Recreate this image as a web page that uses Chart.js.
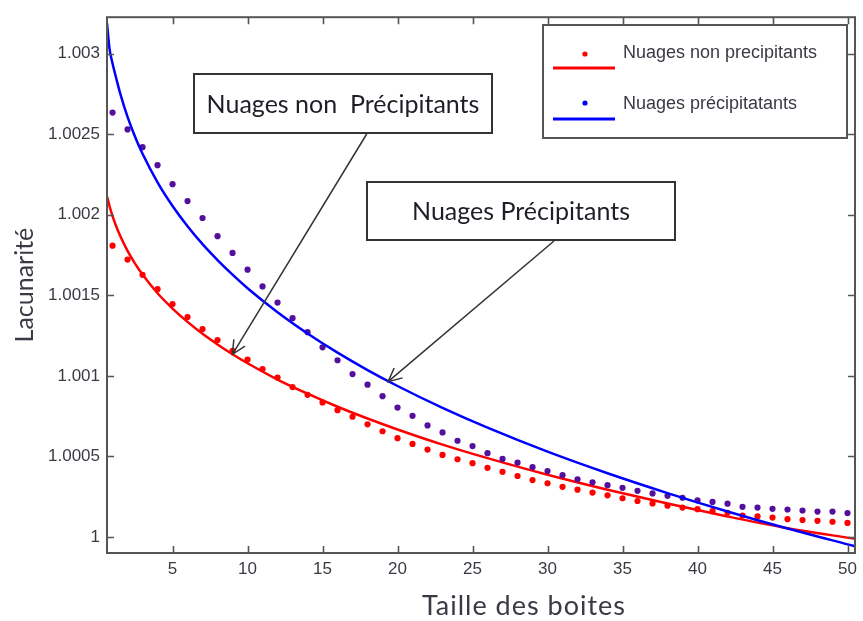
<!DOCTYPE html>
<html>
<head>
<meta charset="utf-8">
<script src="https://cdn.jsdelivr.net/npm/chart.js@4.4.1/dist/chart.umd.min.js"></script>
<style>
  html, body { margin: 0; padding: 0; background: #ffffff; }
  canvas { display: block; }
</style>
</head>
<body>
<canvas id="chart" width="863" height="621" style="width:863px;height:621px"></canvas>
<script>
// Box sizes (x) and measured lacunarity for both cloud types
const boxSizes = [1,2,3,4,5,6,7,8,9,10,11,12,13,14,15,16,17,18,19,20,
  21,22,23,24,25,26,27,28,29,30,31,32,33,34,35,36,37,38,39,40,
  41,42,43,44,45,46,47,48,49,50];

const lacNonPrecip = [1.001808,1.001722,1.001627,1.001538,1.001446,1.001365,1.001291,1.001222,1.001156,1.001101,
  1.001042,1.000989,1.000930,1.000882,1.000835,1.000787,1.000746,1.000699,1.000656,1.000613,
  1.000577,1.000542,1.000509,1.000482,1.000458,1.000429,1.000404,1.000378,1.000353,1.000333,
  1.000311,1.000293,1.000275,1.000258,1.000240,1.000223,1.000208,1.000194,1.000182,1.000172,
  1.000160,1.000150,1.000133,1.000127,1.000120,1.000110,1.000105,1.000100,1.000094,1.000087];

const lacPrecip = [1.002635,1.002530,1.002420,1.002308,1.002190,1.002085,1.001980,1.001867,1.001763,1.001659,
  1.001555,1.001455,1.001358,1.001271,1.001177,1.001097,1.001011,1.000945,1.000874,1.000803,
  1.000752,1.000692,1.000649,1.000597,1.000564,1.000520,1.000484,1.000461,1.000433,1.000409,
  1.000383,1.000358,1.000339,1.000321,1.000305,1.000286,1.000270,1.000255,1.000243,1.000227,
  1.000217,1.000206,1.000187,1.000182,1.000174,1.000170,1.000164,1.000157,1.000157,1.000148];

// Fitted curves, sampled along the box-size axis
const fitX = [0.63,0.8,1,1.25,1.5,2,2.5,3,4,5,6,7,8,9,10,12,14,16,18,20,23,26,30,34,38,42,46,50.5];
const fitNonPrecipY = [1.002115,1.002053,1.001992,1.001927,1.001871,1.001776,1.001697,1.001629,1.001513,1.001418,
  1.001335,1.001261,1.001195,1.001134,1.001078,1.000977,1.000889,1.000808,1.000735,1.000667,
  1.000573,1.000489,1.000386,1.000293,1.000207,1.000127,1.000054,0.999988];
const fitPrecipY = [1.003190,1.003030,1.002940,1.002846,1.002757,1.002608,1.002485,1.002379,1.002202,1.002055,
  1.001929,1.001818,1.001719,1.001628,1.001544,1.001395,1.001263,1.001144,1.001036,1.000937,
  1.000801,1.000678,1.000529,1.000395,1.000272,1.000158,1.000052,0.999942];

// Axis ticks
const xTickValues = [5,10,15,20,25,30,35,40,45,50];
const yTickValues = [1, 1.0005, 1.001, 1.0015, 1.002, 1.0025, 1.003];
const yTickLabels = ['1','1.0005','1.001','1.0015','1.002','1.0025','1.003'];

// Callout targets on the fitted curves
const calloutNonPrecip = { x: 8.99, y: 1.001134 };
const calloutPrecip = { x: 19.37, y: 1.000964 };

const RED = '#ff0000';
const BLUE = '#0000ff';
const PURPLE = '#54109c';
const AXIS = '#555555';
const TEXT = '#3a3a44';

const pts = (xs, ys) => xs.map((x, i) => ({ x: x, y: ys[i] }));

function arrow(ctx, x0, y0, x1, y1) {
  ctx.beginPath();
  ctx.moveTo(x0, y0);
  ctx.lineTo(x1, y1);
  ctx.stroke();
  const ang = Math.atan2(y1 - y0, x1 - x0);
  const len = 15, spread = 0.45;
  ctx.beginPath();
  ctx.moveTo(x1 - len * Math.cos(ang - spread), y1 - len * Math.sin(ang - spread));
  ctx.lineTo(x1, y1);
  ctx.lineTo(x1 - len * Math.cos(ang + spread), y1 - len * Math.sin(ang + spread));
  ctx.stroke();
}

function textBox(ctx, x, y, w, h, label) {
  ctx.fillStyle = '#ffffff';
  ctx.fillRect(x, y, w, h);
  ctx.strokeStyle = '#333333';
  ctx.lineWidth = 2;
  ctx.strokeRect(x, y, w, h);
  ctx.fillStyle = '#1e1e28';
  ctx.font = '25px Lato';
  ctx.textAlign = 'center';
  ctx.textBaseline = 'middle';
  ctx.fillText(label, x + w / 2, y + h / 2 + 1);
}

// Box frame with inward ticks on all four sides
const framePlugin = {
  id: 'frame',
  afterDatasetsDraw(chart) {
    const { ctx, chartArea: a, scales } = chart;
    const sx = scales.x, sy = scales.y;
    ctx.save();
    ctx.strokeStyle = AXIS;
    ctx.lineWidth = 2;
    ctx.strokeRect(a.left, a.top, a.right - a.left, a.bottom - a.top);
    ctx.lineWidth = 1.6;
    const tl = 7;
    ctx.beginPath();
    xTickValues.forEach(v => {
      const px = Math.round(sx.getPixelForValue(v)) + 0.5;
      ctx.moveTo(px, a.bottom); ctx.lineTo(px, a.bottom - tl);
      ctx.moveTo(px, a.top); ctx.lineTo(px, a.top + tl);
    });
    yTickValues.forEach(v => {
      const py = Math.round(sy.getPixelForValue(v)) + 0.5;
      ctx.moveTo(a.left, py); ctx.lineTo(a.left + tl, py);
      ctx.moveTo(a.right, py); ctx.lineTo(a.right - tl, py);
    });
    ctx.stroke();
    ctx.restore();
  }
};

// Legend, x-axis title and callouts
const notesPlugin = {
  id: 'notes',
  afterDraw(chart) {
    const { ctx, scales } = chart;
    const sx = scales.x, sy = scales.y;
    ctx.save();

    // x-axis title
    ctx.fillStyle = TEXT;
    ctx.font = '27px Lato';
    ctx.letterSpacing = '1px';
    ctx.textAlign = 'center';
    ctx.textBaseline = 'middle';
    ctx.fillText('Taille des boites', 524, 606);
    ctx.letterSpacing = '0px';

    // legend
    ctx.fillStyle = '#ffffff';
    ctx.fillRect(543, 25, 304, 113);
    ctx.strokeStyle = AXIS;
    ctx.lineWidth = 2;
    ctx.strokeRect(543, 25, 304, 113);
    const entries = [
      { color: RED, dotY: 54, lineY: 68, textY: 53, label: 'Nuages non precipitants' },
      { color: BLUE, dotY: 103, lineY: 119, textY: 104, label: 'Nuages précipitatants' }
    ];
    entries.forEach(e => {
      ctx.strokeStyle = e.color;
      ctx.lineWidth = 3;
      ctx.beginPath();
      ctx.moveTo(553, e.lineY); ctx.lineTo(615, e.lineY);
      ctx.stroke();
      ctx.fillStyle = e.color;
      ctx.beginPath();
      ctx.arc(585, e.dotY, 2.6, 0, Math.PI * 2);
      ctx.fill();
      ctx.fillStyle = TEXT;
      ctx.font = '18px "Liberation Sans"';
      ctx.textAlign = 'left';
      ctx.textBaseline = 'middle';
      ctx.fillText(e.label, 623, e.textY);
    });

    // callout arrows
    ctx.strokeStyle = '#333333';
    ctx.lineWidth = 1.5;
    arrow(ctx, 366.7, 134, sx.getPixelForValue(calloutNonPrecip.x), sy.getPixelForValue(calloutNonPrecip.y));
    arrow(ctx, 554, 241, sx.getPixelForValue(calloutPrecip.x), sy.getPixelForValue(calloutPrecip.y));

    // callout boxes
    textBox(ctx, 194, 74, 298, 59, 'Nuages non  Précipitants');
    textBox(ctx, 367, 182, 308, 58, 'Nuages Précipitants');

    ctx.restore();
  }
};

new Chart(document.getElementById('chart'), {
  type: 'scatter',
  data: {
    datasets: [
      {
        label: 'Nuages précipitatants (ajustement)',
        data: pts(fitX, fitPrecipY),
        showLine: true,
        borderColor: BLUE,
        borderWidth: 2.5,
        pointRadius: 0,
        cubicInterpolationMode: 'monotone',
        fill: false
      },
      {
        label: 'Nuages précipitatants',
        data: pts(boxSizes, lacPrecip),
        showLine: false,
        backgroundColor: PURPLE,
        borderWidth: 0,
        pointRadius: 3.1
      },
      {
        label: 'Nuages non precipitants (ajustement)',
        data: pts(fitX, fitNonPrecipY),
        showLine: true,
        borderColor: RED,
        borderWidth: 2.5,
        pointRadius: 0,
        cubicInterpolationMode: 'monotone',
        fill: false
      },
      {
        label: 'Nuages non precipitants',
        data: pts(boxSizes, lacNonPrecip),
        showLine: false,
        backgroundColor: RED,
        borderWidth: 0,
        pointRadius: 3.1
      }
    ]
  },
  options: {
    responsive: false,
    animation: false,
    devicePixelRatio: 1,
    layout: { padding: { top: 10, right: 3, left: 0, bottom: 0 } },
    plugins: { legend: { display: false }, tooltip: { enabled: false } },
    scales: {
      x: {
        type: 'linear',
        min: 0.63,
        max: 50.5,
        grid: { display: false, drawTicks: false },
        border: { display: false },
        afterBuildTicks: s => { s.ticks = xTickValues.map(v => ({ value: v })); },
        afterFit: s => { s.height = 68; },
        ticks: {
          padding: 6,
          color: TEXT,
          font: { family: '"Liberation Sans", Arial, sans-serif', size: 17 },
          maxRotation: 0,
          callback: v => String(v)
        },
        title: { display: false }
      },
      y: {
        type: 'linear',
        min: 0.9999,
        max: 1.003227,
        grid: { display: false, drawTicks: false },
        border: { display: false },
        afterBuildTicks: s => { s.ticks = yTickValues.map(v => ({ value: v })); },
        afterFit: s => { s.width = 107; },
        ticks: {
          padding: 7,
          color: TEXT,
          font: { family: '"Liberation Sans", Arial, sans-serif', size: 17 },
          callback: (v, i) => yTickLabels[i]
        },
        title: {
          display: true,
          text: 'Lacunarité',
          color: TEXT,
          font: { family: 'Lato, sans-serif', size: 25 },
          padding: { top: 10, bottom: 0 }
        }
      }
    }
  },
  plugins: [framePlugin, notesPlugin]
});
</script>
</body>
</html>
